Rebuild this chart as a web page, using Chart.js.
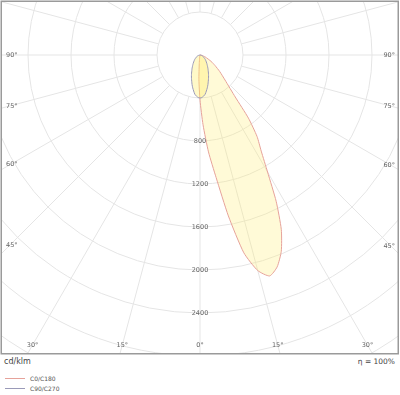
<!DOCTYPE html>
<html>
<head>
<meta charset="utf-8">
<script src="https://cdn.jsdelivr.net/npm/chart.js@4.4.0/dist/chart.umd.min.js"></script>
<style>
  html, body { margin: 0; padding: 0; background: #fff; }
  #wrap { position: relative; width: 400px; height: 395px; font-family: 'DejaVu Sans', Verdana, sans-serif; color: #444; }
  #plot { position: absolute; left: 0; top: 0; }
  .unit { position: absolute; left: 4px; top: 356px; font-size: 8px; line-height: 12px; }
  .eta  { position: absolute; right: 5px; top: 356px; font-size: 7.5px; line-height: 12px; }
  #legend { position: absolute; left: 5px; top: 373px; font-size: 6px; color: #555; }
  .lg-item { display: flex; align-items: center; height: 10px; }
  .lg-line { width: 20px; height: 0; border-top: 1px solid; margin-right: 5px; }
</style>
</head>
<body>
<div id="wrap">
  <canvas id="plot" width="400" height="356"></canvas>
  <div class="unit" id="unit"></div>
  <div class="eta" id="eta"></div>
  <div id="legend"></div>
</div>
<script>
// ---- data ----
const GAMMA  = [0, 2.5, 5, 7.5, 10, 12.5, 15, 17.5, 20, 22.5, 25, 27.5, 30, 32.5, 35, 37.5, 40, 45, 50, 55, 60, 70, 80, 90];
const I_C0   = [420, 650, 905, 1150, 1520, 1885, 2076, 2155, 2098, 1976, 1789, 1534, 1257, 1060, 925, 740, 510, 329, 240, 170, 120, 50, 15, 0];
const I_C180 = [420, 230, 80, 30, 10, 4, 0, 0, 0, 0, 0, 0, 0, 0, 0, 0, 0, 0, 0, 0, 0, 0, 0, 0];
const I_C90  = [400, 396, 384, 368, 340, 313, 285, 256, 232, 208, 186, 165, 149, 133, 119, 107, 97, 78, 64, 50, 40, 22, 8, 0];
const I_C270 = [400, 396, 384, 368, 340, 313, 285, 256, 232, 208, 186, 165, 149, 133, 119, 107, 97, 78, 64, 50, 40, 22, 8, 0];

const SERIES      = ['C0/C180', 'C90/C270'];
const RINGS       = [400, 800, 1200, 1600, 2000, 2400, 2800, 3200, 3600];
const RING_LABELS = [800, 1200, 1600, 2000, 2400];
const ANGLE_TICKS = [0, 15, 30, 45, 60, 75, 90];
const UNIT        = 'cd/klm';
const EFFICIENCY  = 'η = 100%';

// ---- layout ----
const PX_PER_CD = 43 / 400;
const CENTER = { x: 200, y: 55 };
const AREA = { left: 1, top: 1, right: 399, bottom: 354 };

const rad = d => d * Math.PI / 180;

// one closed outline: left half from 90° to 0°, right half from 0° to 90°
function outline(leftVals, rightVals) {
  const pts = [];
  for (let i = GAMMA.length - 1; i >= 0; i--) {
    pts.push({ x: -leftVals[i] * Math.sin(rad(GAMMA[i])), y: -leftVals[i] * Math.cos(rad(GAMMA[i])) });
  }
  for (let i = 1; i < GAMMA.length; i++) {
    pts.push({ x: rightVals[i] * Math.sin(rad(GAMMA[i])), y: -rightVals[i] * Math.cos(rad(GAMMA[i])) });
  }
  return pts;
}

const polarGrid = {
  id: 'polarGrid',
  beforeDatasetsDraw(chart) {
    const { ctx, chartArea: a, scales: { x, y } } = chart;
    const cx = x.getPixelForValue(0), cy = y.getPixelForValue(0);
    const k = x.getPixelForValue(1000) - cx;
    ctx.save();
    ctx.beginPath();
    ctx.rect(a.left, a.top, a.right - a.left, a.bottom - a.top);
    ctx.clip();
    ctx.strokeStyle = '#e5e5e5';
    ctx.lineWidth = 1;
    RINGS.forEach(v => {
      ctx.beginPath();
      ctx.arc(cx, cy, v * k / 1000, 0, Math.PI * 2);
      ctx.stroke();
    });
    const r0 = RINGS[0] * k / 1000;
    for (let g = 0; g < 360; g += 15) {
      const dx = Math.sin(rad(g)), dy = Math.cos(rad(g));
      ctx.beginPath();
      ctx.moveTo(cx + dx * r0, cy + dy * r0);
      ctx.lineTo(cx + dx * 1000, cy + dy * 1000);
      ctx.stroke();
    }
    ctx.restore();
  },
  afterDatasetsDraw(chart) {
    const { ctx, chartArea: a, scales: { x, y } } = chart;
    const cx = x.getPixelForValue(0), cy = y.getPixelForValue(0);
    const k = x.getPixelForValue(1000) - cx;
    ctx.save();
    ctx.font = '6.5px "DejaVu Sans", Verdana, sans-serif';
    ctx.fillStyle = '#666';
    ctx.textBaseline = 'middle';

    // intensity labels down the 0° axis
    ctx.textAlign = 'center';
    RING_LABELS.forEach(v => ctx.fillText(String(v), cx, cy + v * k / 1000));

    // angle labels along the frame
    const sideL = a.left + 5, sideR = a.right - 4, bottomY = a.bottom - 9;
    ANGLE_TICKS.forEach(g => {
      [-1, 1].forEach(s => {
        if (g === 0 && s === 1) return;
        const dx = Math.sin(rad(g)), dy = Math.cos(rad(g));
        const tSide = dx > 0 ? (s < 0 ? cx - sideL : sideR - cx) / dx : Infinity;
        const tBot = dy > 0 ? (bottomY - cy) / dy : Infinity;
        const txt = g + '°';
        if (tBot < tSide) {
          ctx.textAlign = 'center';
          ctx.fillText(txt, cx + s * dx * tBot, bottomY);
        } else {
          ctx.textAlign = s < 0 ? 'left' : 'right';
          ctx.fillText(txt, s < 0 ? sideL : sideR, cy + dy * tSide * 0.98);
        }
      });
    });

    // frame
    ctx.strokeStyle = '#9a9a9a';
    ctx.lineWidth = 1.5;
    ctx.strokeRect(a.left + 0.25, a.top + 0.25, a.right - a.left - 1, a.bottom - a.top - 0.5);
    ctx.restore();
  }
};

const chart = new Chart(document.getElementById('plot'), {
  type: 'scatter',
  data: {
    datasets: [
      {
        label: SERIES[0],
        data: outline(I_C180, I_C0),
        showLine: true,
        borderColor: '#e6a29a',
        borderWidth: 1,
        backgroundColor: 'rgba(255, 238, 110, 0.28)',
        fill: 'shape',
        pointRadius: 0,
        tension: 0.2,
        order: 2
      },
      {
        label: SERIES[1],
        data: outline(I_C270, I_C90),
        showLine: true,
        borderColor: '#9a9ab8',
        borderWidth: 1,
        backgroundColor: 'rgba(255, 240, 110, 0.38)',
        fill: 'shape',
        pointRadius: 0,
        tension: 0.2,
        order: 1
      }
    ]
  },
  options: {
    responsive: false,
    animation: false,
    layout: { padding: { left: AREA.left, top: AREA.top, right: 400 - AREA.right, bottom: 356 - AREA.bottom } },
    scales: {
      x: {
        type: 'linear', display: false,
        min: -(CENTER.x - AREA.left) / PX_PER_CD,
        max: (AREA.right - CENTER.x) / PX_PER_CD
      },
      y: {
        type: 'linear', display: false,
        min: -(AREA.bottom - CENTER.y) / PX_PER_CD,
        max: (CENTER.y - AREA.top) / PX_PER_CD
      }
    },
    plugins: {
      legend: { display: false },
      tooltip: { enabled: false }
    }
  },
  plugins: [polarGrid]
});

document.getElementById('unit').textContent = UNIT;
document.getElementById('eta').textContent = EFFICIENCY;
document.getElementById('legend').innerHTML = chart.data.datasets.map(ds =>
  `<div class="lg-item"><span class="lg-line" style="border-color:${ds.borderColor}"></span>${ds.label}</div>`
).join('');
</script>
</body>
</html>
